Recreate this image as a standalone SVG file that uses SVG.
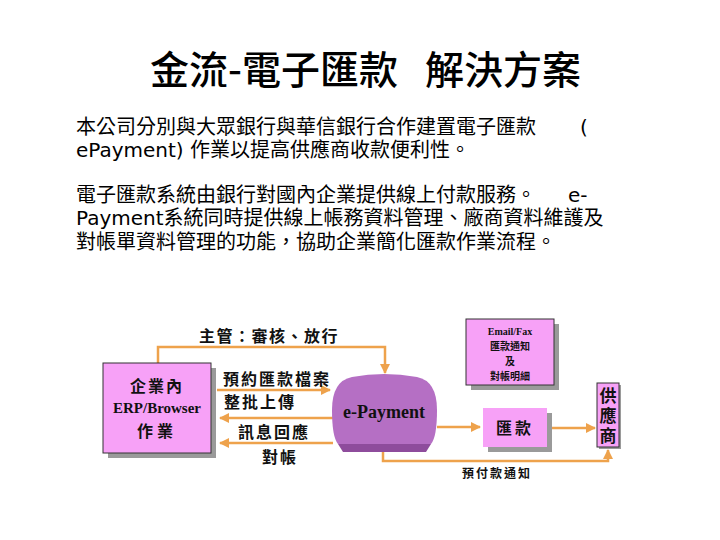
<svg xmlns="http://www.w3.org/2000/svg" width="720" height="540" viewBox="0 0 720 540">
<style>
.title{font-family:"Noto Sans CJK TC","Noto Sans CJK SC",sans-serif;font-size:39px;font-weight:500;fill:#000}
.body{font-family:"DejaVu Sans","Noto Sans CJK TC",sans-serif;font-size:20px;fill:#000}
.lbl{font-family:"Liberation Serif","Noto Sans CJK TC",serif;font-weight:bold;fill:#111}
.box{fill:#f7a1f7;stroke:#333;stroke-width:1}
.shadow{fill:#9a9a9a}
.conn{fill:none;stroke:#eea24c;stroke-width:2.5}
</style>
<defs>
<marker id="ah" viewBox="0 0 10 10" refX="9" refY="5" markerWidth="4" markerHeight="4" orient="auto" markerUnits="strokeWidth">
<path d="M0,0 L10,5 L0,10 Z" fill="#eea24c"/>
</marker>
</defs>
<rect width="720" height="540" fill="#fff"/>
<text class="title" x="150" y="84">金流-電子匯款</text>
<text class="title" x="425" y="84">解決方案</text>
<g id="intro">
<text class="body" x="76" y="134">本公司分別與大眾銀行與華信銀行合作建置電子匯款</text>
<text class="body" x="580" y="134">(</text>
<text class="body" x="76" y="157">ePayment) 作業以提高供應商收款便利性。</text>
<text class="body" x="76" y="202">電子匯款系統由銀行對國內企業提供線上付款服務。</text>
<text class="body" x="568" y="202">e-</text>
<text class="body" x="76" y="225">Payment系統同時提供線上帳務資料管理、廠商資料維護及</text>
<text class="body" x="76" y="249">對帳單資料管理的功能，協助企業簡化匯款作業流程。</text>
</g>
<g id="connectors">
<path class="conn" d="M158,363 V347 H385 V373" marker-end="url(#ah)"/>
<path class="conn" d="M217,390 H330" marker-end="url(#ah)"/>
<path class="conn" d="M333,418 H220" marker-end="url(#ah)"/>
<path class="conn" d="M333,443 H220" marker-end="url(#ah)"/>
<path class="conn" d="M437,427 H480" marker-end="url(#ah)"/>
<path class="conn" d="M547,428 H595" marker-end="url(#ah)"/>
<path class="conn" d="M383,452 V461 H608 V450" marker-end="url(#ah)"/>
<text class="lbl" x="269" y="342" font-size="16" text-anchor="middle" letter-spacing="1.5">主管：審核、放行</text>
<text class="lbl" x="277" y="385" font-size="16" text-anchor="middle" letter-spacing="2">預約匯款檔案</text>
<text class="lbl" x="260" y="408" font-size="16" text-anchor="middle" letter-spacing="2">整批上傳</text>
<text class="lbl" x="274" y="438" font-size="16" text-anchor="middle" letter-spacing="2">訊息回應</text>
<text class="lbl" x="280" y="463" font-size="16" text-anchor="middle" letter-spacing="2">對帳</text>
<text class="lbl" x="497" y="478" font-size="12" text-anchor="middle" letter-spacing="2">預付款通知</text>
</g>
<g id="enterprise">
<rect class="shadow" x="108" y="368" width="108" height="90"/>
<rect class="box" x="103" y="363" width="108" height="90"/>
<text class="lbl" x="157" y="392" font-size="16" text-anchor="middle" letter-spacing="2">企業內</text>
<text class="lbl" x="157" y="413" font-size="15" text-anchor="middle">ERP/Browser</text>
<text class="lbl" x="157" y="437" font-size="16" text-anchor="middle" letter-spacing="4">作業</text>
</g>
<g id="epayment">
<path d="M338,444 L431,444 L426,452 L343,452 Z" fill="#8e4c9c"/>
<path d="M352,377 Q384,371 417,377 Q437,381 437,410 Q437,437 431,444 L338,444 Q332,437 332,410 Q332,381 352,377 Z" fill="#b56fc4"/>
<text class="lbl" x="384" y="418" font-size="18" text-anchor="middle">e-Payment</text>
</g>
<g id="notice">
<rect class="shadow" x="471" y="324" width="88" height="66"/>
<rect class="box" x="466" y="319" width="88" height="66"/>
<text class="lbl" x="510" y="335" font-size="10" text-anchor="middle">Email/Fax</text>
<text class="lbl" x="510" y="350" font-size="10" text-anchor="middle">匯款通知</text>
<text class="lbl" x="510" y="365" font-size="10" text-anchor="middle">及</text>
<text class="lbl" x="510" y="380" font-size="10" text-anchor="middle">對帳明細</text>
</g>
<g id="remit">
<rect class="shadow" x="488" y="413" width="64" height="39"/>
<rect x="483" y="408" width="64" height="39" fill="#f7a1f7"/>
<text class="lbl" x="515" y="434" font-size="16" text-anchor="middle" letter-spacing="3">匯款</text>
</g>
<g id="supplier">
<rect class="shadow" x="599" y="385" width="22" height="64"/>
<rect class="box" x="597" y="383" width="22" height="64" stroke="#111"/>
<text class="lbl" x="608" y="402" font-size="17" text-anchor="middle">供</text>
<text class="lbl" x="608" y="422" font-size="17" text-anchor="middle">應</text>
<text class="lbl" x="608" y="442" font-size="17" text-anchor="middle">商</text>
</g>
</svg>
